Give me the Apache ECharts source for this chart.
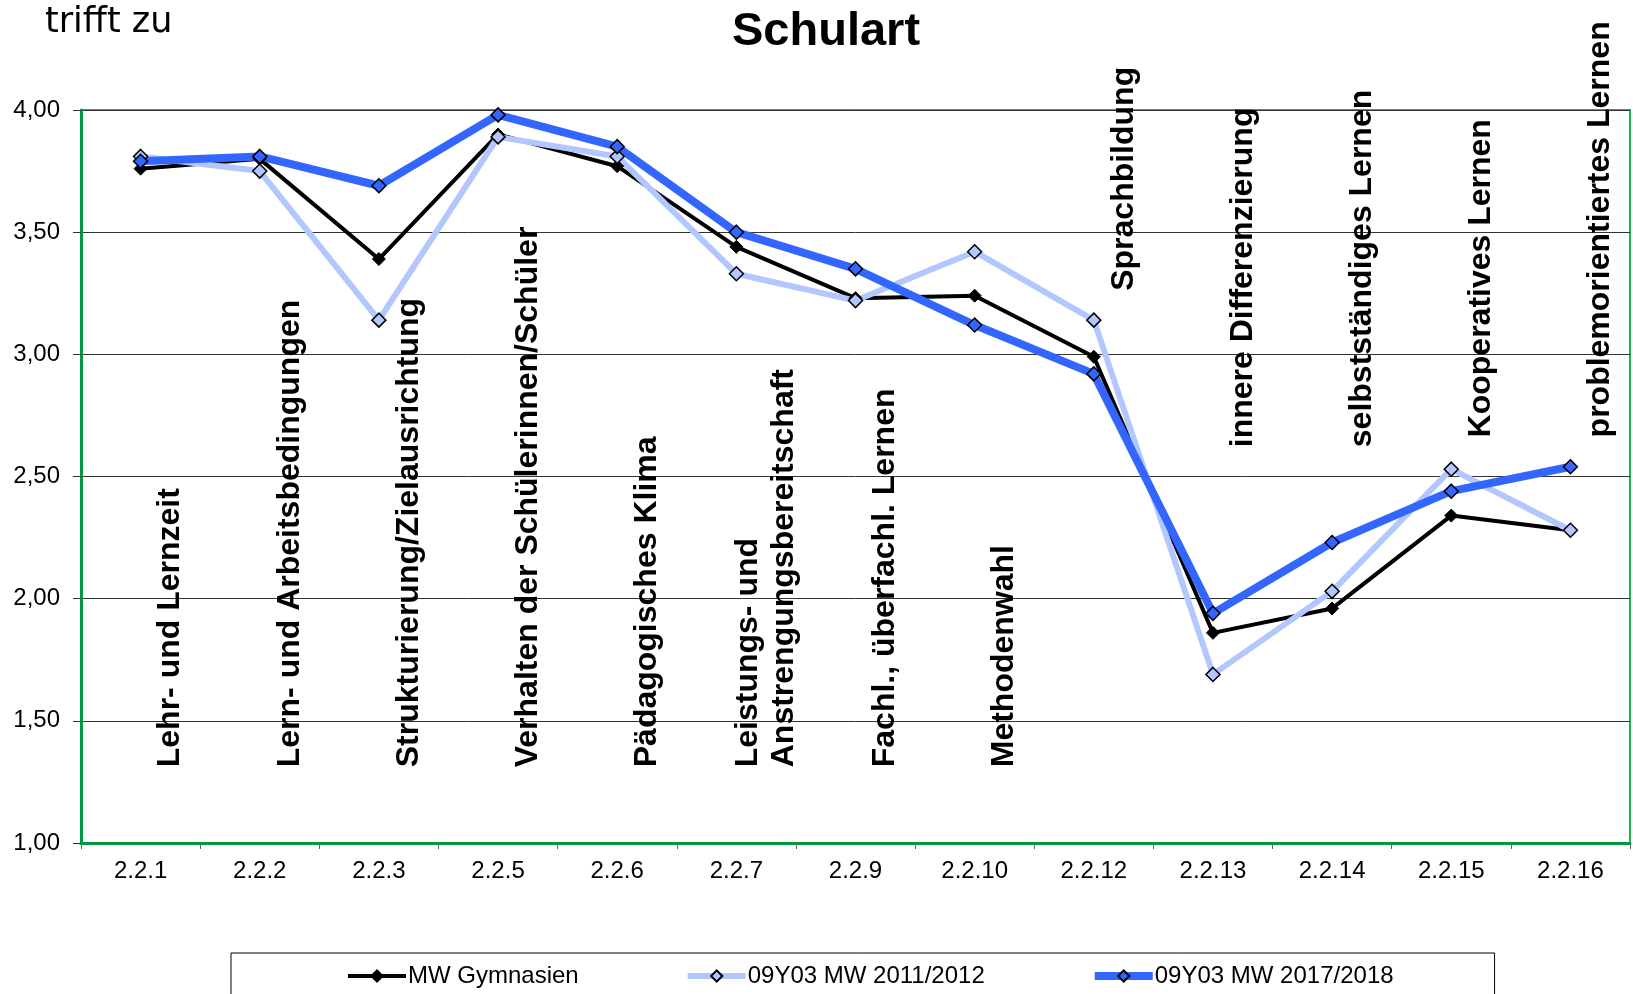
<!DOCTYPE html>
<html>
<head>
<meta charset="utf-8">
<title>Schulart</title>
<script src="https://cdn.jsdelivr.net/npm/echarts@6/dist/echarts.min.js"></script>
<style>
  html, body { margin: 0; padding: 0; background: #fff; }
  #main { width: 1633px; height: 994px; }
</style>
</head>
<body>
<div id="main"></div>
<script>
// Kategorien (x-Achse)
var categories = ['2.2.1', '2.2.2', '2.2.3', '2.2.5', '2.2.6', '2.2.7', '2.2.9',
                  '2.2.10', '2.2.12', '2.2.13', '2.2.14', '2.2.15', '2.2.16'];

// Beschriftungen der Bereiche
var areaNames = ['Lehr- und Lernzeit', 'Lern- und Arbeitsbedingungen',
                 'Strukturierung/Zielausrichtung', 'Verhalten der Schülerinnen/Schüler',
                 'Pädagogisches Klima', 'Leistungs- und\nAnstrengungsbereitschaft',
                 'Fachl., überfachl. Lernen', 'Methodenwahl', 'Sprachbildung',
                 'innere Differenzierung', 'selbstständiges Lernen',
                 'Kooperatives Lernen', 'problemorientiertes Lernen'];

// Mittelwerte
var mwGymnasien = [3.76, 3.80, 3.39, 3.90, 3.77, 3.44, 3.23, 3.24, 2.99, 1.86, 1.96, 2.34, 2.28];
var mw2011 = [3.81, 3.75, 3.14, 3.89, 3.81, 3.33, 3.22, 3.42, 3.14, 1.69, 2.03, 2.53, 2.28];
var mw2017 = [3.79, 3.81, 3.69, 3.98, 3.85, 3.50, 3.35, 3.12, 2.92, 1.94, 2.23, 2.44, 2.54];

// Y-Achse
var yMin = 1, yMax = 4, yStep = 0.5;

// Wo die gedrehten Bereichstexte anfangen (Wert auf der y-Achse)
var nameStart = [1.31, 1.31, 1.31, 1.31, 1.31, 1.31, 1.31, 1.31, 3.26, 2.62, 2.62, 2.66, 2.66];

var FONT = "'Liberation Sans', Arial, sans-serif";

var nameData = categories.map(function (c, i) {
    return [i, nameStart[i], areaNames[i]];
});

var myChart = echarts.init(document.getElementById('main'));

var option = {
    animation: false,
    backgroundColor: '#fff',
    title: [{
        text: 'Schulart',
        left: 727,
        top: 4,
        textStyle: { fontFamily: FONT, fontWeight: 'bold', fontSize: 47, color: '#000' }
    }, {
        text: 'trifft zu',
        left: 40,
        top: 0,
        textStyle: { fontFamily: "'DejaVu Sans', sans-serif", fontWeight: 'normal', fontSize: 35, color: '#000' }
    }],
    grid: {
        left: 81, right: 3, top: 110, bottom: 151,
        show: true,
        borderColor: '#1db34f',
        borderWidth: 2
    },
    legend: {
        left: 231,
        top: 953,
        padding: [11, 101, 30, 115],
        itemGap: 106,
        itemWidth: 58,
        itemHeight: 14,
        backgroundColor: '#fff',
        borderColor: '#000',
        borderWidth: 1,
        borderRadius: 0,
        textStyle: { fontFamily: FONT, fontSize: 24, color: '#000', padding: [0, 0, 0, -3] },
        data: [
            { name: 'MW Gymnasien', lineStyle: { width: 4 } },
            { name: '09Y03 MW 2011/2012', lineStyle: { width: 6 } },
            { name: '09Y03 MW 2017/2018', lineStyle: { width: 8 } }
        ]
    },
    xAxis: {
        type: 'category',
        data: categories,
        boundaryGap: true,
        axisLine: { lineStyle: { color: '#009a44', width: 3 } },
        axisTick: { show: true, length: 6, lineStyle: { color: '#666' } },
        axisLabel: { fontFamily: FONT, fontSize: 24, color: '#000', margin: 16 },
        splitLine: { show: false }
    },
    yAxis: {
        type: 'value',
        min: yMin, max: yMax, interval: yStep,
        axisLine: { show: true, lineStyle: { color: '#009a44', width: 3 } },
        axisTick: { show: true, length: 8, lineStyle: { color: '#333' } },
        axisLabel: {
            fontFamily: FONT, fontSize: 24, color: '#000', margin: 21,
            formatter: function (v) { return v.toFixed(2).replace('.', ','); }
        },
        splitLine: { show: true, lineStyle: { color: '#333', width: 1 } }
    },
    series: [{
        name: 'MW Gymnasien',
        type: 'line',
        data: mwGymnasien,
        symbol: 'diamond',
        symbolSize: 13,
        lineStyle: { color: '#000', width: 4 },
        itemStyle: { color: '#000', borderColor: '#000', borderWidth: 1 }
    }, {
        name: '09Y03 MW 2011/2012',
        type: 'line',
        data: mw2011,
        symbol: 'diamond',
        symbolSize: 14,
        lineStyle: { color: '#b3c7ff', width: 6 },
        itemStyle: { color: '#b3c7ff', borderColor: '#000', borderWidth: 1.5 }
    }, {
        name: '09Y03 MW 2017/2018',
        type: 'line',
        data: mw2017,
        symbol: 'diamond',
        symbolSize: 14,
        lineStyle: { color: '#3366ff', width: 8 },
        itemStyle: { color: '#3366ff', borderColor: '#000', borderWidth: 1.5 }
    }, {
        // gedrehte Bereichsnamen im Diagramm
        name: 'Bereiche',
        type: 'custom',
        silent: true,
        z: 1,
        data: nameData,
        renderItem: function (params, api) {
            var p = api.coord([api.value(0), api.value(1)]);
            return {
                type: 'text',
                x: p[0] + 30,
                y: p[1],
                rotation: Math.PI / 2,
                style: {
                    text: areaNames[params.dataIndex],
                    fill: '#000',
                    font: 'bold 32px ' + FONT,
                    align: 'left',
                    verticalAlign: 'middle',
                    lineHeight: 36
                }
            };
        }
    }]
};

myChart.setOption(option);
</script>
</body>
</html>
